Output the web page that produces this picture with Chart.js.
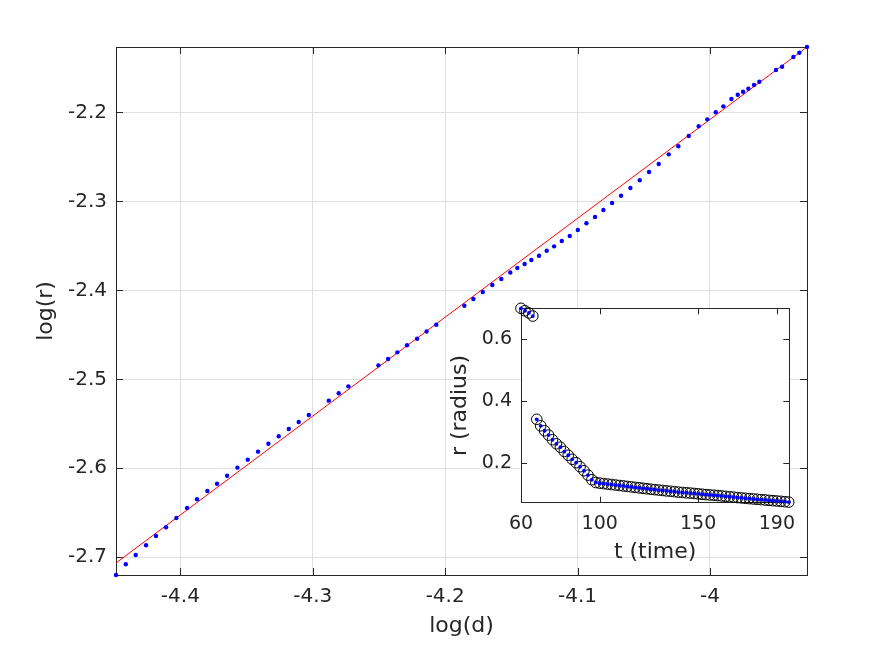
<!DOCTYPE html>
<html>
<head>
<meta charset="utf-8">
<script src="https://cdn.jsdelivr.net/npm/chart.js@4/dist/chart.umd.min.js"></script>
<style>
html, body { margin: 0; padding: 0; background: #fff; }
#wrap { position: relative; width: 891px; height: 645px; }
#main { position: absolute; left: 0; top: 0; }
#inset { position: absolute; left: 430px; top: 295px; }
</style>
</head>
<body>
<div id="wrap">
  <canvas id="main" width="891" height="645"></canvas>
  <canvas id="inset" width="370" height="280"></canvas>
</div>
<script>
// main plot: log(r) against log(d)
var logD = [-4.4486, -4.4412, -4.4337, -4.4259, -4.4184, -4.4108, -4.4030, -4.3949, -4.3874, -4.3796,
            -4.3723, -4.3647, -4.3569, -4.3491, -4.3413, -4.3335, -4.3257, -4.3181, -4.3106, -4.3030,
            -4.2879, -4.2804, -4.2731, -4.2504, -4.2431, -4.2361, -4.2288, -4.2212, -4.2140, -4.2067,
            -4.1855, -4.1787, -4.1716, -4.1644, -4.1576, -4.1508, -4.1455, -4.1400, -4.1349, -4.1291,
            -4.1233, -4.1177, -4.1119, -4.1059, -4.0998, -4.0933, -4.0868, -4.0805, -4.0739, -4.0671,
            -4.0601, -4.0530, -4.0460, -4.0387, -4.0311, -4.0239, -4.0160, -4.0085, -4.0020, -3.9956,
            -3.9899, -3.9838, -3.9790, -3.9750, -3.9710, -3.9667, -3.9627, -3.9501, -3.9455, -3.9370,
            -3.9325, -3.9267];
var logR = [-2.7199, -2.7079, -2.6974, -2.6865, -2.6761, -2.6663, -2.6558, -2.6446, -2.6348, -2.6255,
            -2.6173, -2.6083, -2.5993, -2.5903, -2.5813, -2.5724, -2.5640, -2.5558, -2.5480, -2.5401,
            -2.5240, -2.5157, -2.5079, -2.4843, -2.4772, -2.4697, -2.4618, -2.4544, -2.4463, -2.4387,
            -2.4173, -2.4098, -2.4019, -2.3940, -2.3873, -2.3800, -2.3749, -2.3704, -2.3660, -2.3611,
            -2.3555, -2.3506, -2.3446, -2.3390, -2.3322, -2.3247, -2.3176, -2.3098, -2.3019, -2.2937,
            -2.2851, -2.2764, -2.2671, -2.2581, -2.2472, -2.2382, -2.2266, -2.2157, -2.2079, -2.2000,
            -2.1933, -2.1851, -2.1802, -2.1769, -2.1735, -2.1693, -2.1656, -2.1525, -2.1488, -2.1379,
            -2.1330, -2.1266];
// fitted line, end points
var fitD = [-4.4486, -3.9267];
var fitR = [-2.7064, -2.1266];
var dTicks = [-4.4, -4.3, -4.2, -4.1, -4.0];
var rTicks = [-2.7, -2.6, -2.5, -2.4, -2.3, -2.2];

// inset: r against t
var tTime = [60, 62, 64, 66,
             68, 70, 72, 74, 76, 78, 80, 82, 84, 86, 88, 90, 92, 94, 96,
             98, 100, 102, 104, 106, 108, 110, 112, 114, 116,
             118, 120, 122, 124, 126, 128, 130, 132, 134, 136,
             138, 140, 142, 144, 146, 148, 150, 152, 154, 156,
             158, 160, 162, 164, 166, 168, 170, 172, 174, 176,
             178, 180, 182, 184, 186, 188, 190, 192, 194, 196];
var radius = [0.700, 0.692, 0.685, 0.675,
              0.342, 0.321, 0.305, 0.291, 0.276, 0.263, 0.252, 0.238, 0.226, 0.213, 0.202, 0.189, 0.176, 0.162, 0.147,
              0.138, 0.136, 0.1345, 0.133, 0.1315, 0.130, 0.1285, 0.127, 0.1255, 0.124,
              0.1225, 0.121, 0.1195, 0.118, 0.1165, 0.115, 0.1138, 0.1125, 0.111, 0.110,
              0.1085, 0.107, 0.106, 0.105, 0.104, 0.1028, 0.1015, 0.1003, 0.099, 0.098,
              0.097, 0.096, 0.0948, 0.0935, 0.0922, 0.091, 0.0895, 0.0884, 0.0873, 0.0862,
              0.085, 0.084, 0.083, 0.0818, 0.0806, 0.0796, 0.0785, 0.0774, 0.0762, 0.075];
var tTicks = [60, 100, 150, 190];
var radTicks = [0.2, 0.4, 0.6];

var ink = '#262626';
var font = 'DejaVu Sans';

// box round the axes with inward ticks, like matlab
var framePlugin = {
  id: 'frame',
  beforeDraw: function(chart, args, opts) {
    if (!opts.fill) return;
    var a = chart.chartArea, ctx = chart.ctx;
    ctx.save();
    ctx.fillStyle = '#fff';
    ctx.fillRect(a.left, a.top, a.right - a.left, a.bottom - a.top);
    ctx.restore();
  },
  beforeDatasetsDraw: function(chart, args, opts) {
    var a = chart.chartArea, ctx = chart.ctx, L = opts.tick || 7;
    var sx = chart.scales.x, sy = chart.scales.y;
    ctx.save();
    ctx.strokeStyle = ink;
    ctx.lineWidth = 1;
    ctx.strokeRect(Math.round(a.left) + 0.5, Math.round(a.top) + 0.5,
                   Math.round(a.right - a.left), Math.round(a.bottom - a.top));
    ctx.beginPath();
    sx.ticks.forEach(function(t) {
      var p = Math.round(sx.getPixelForValue(t.value)) + 0.5;
      ctx.moveTo(p, a.bottom); ctx.lineTo(p, a.bottom - L);
      ctx.moveTo(p, a.top); ctx.lineTo(p, a.top + L);
    });
    sy.ticks.forEach(function(t) {
      var p = Math.round(sy.getPixelForValue(t.value)) + 0.5;
      ctx.moveTo(a.left, p); ctx.lineTo(a.left + L, p);
      ctx.moveTo(a.right, p); ctx.lineTo(a.right - L, p);
    });
    ctx.stroke();
    ctx.restore();
  }
};

function fixedTicks(list) {
  return function(s) { s.ticks = list.map(function(v) { return { value: v }; }); };
}
// fix the axis band size and drop the label overhang padding
function fixHeight(h) {
  return function(s) { s.height = h; s.paddingLeft = 0; s.paddingRight = 0; };
}
function fixWidth(w) {
  return function(s) { s.width = w; s.paddingTop = 0; s.paddingBottom = 0; };
}

var mainPts = logD.map(function(d, i) { return { x: d, y: logR[i] }; });
var fitPts = fitD.map(function(d, i) { return { x: d, y: fitR[i] }; });

new Chart(document.getElementById('main'), {
  type: 'scatter',
  data: {
    datasets: [
      { data: mainPts, pointRadius: 2.2, pointBackgroundColor: '#0000ff', pointBorderWidth: 0, clip: false, order: 0 },
      { data: fitPts, showLine: true, borderColor: '#ff0000', borderWidth: 1, pointRadius: 0, clip: false, order: 1 }
    ]
  },
  options: {
    responsive: false,
    animation: false,
    events: [],
    layout: { padding: { left: 0, top: 47, right: 84, bottom: 0 } },
    plugins: { legend: { display: false }, tooltip: { enabled: false }, frame: { tick: 7 } },
    scales: {
      x: {
        type: 'linear', min: -4.4486, max: -3.9267, bounds: 'data',
        afterBuildTicks: fixedTicks(dTicks),
        afterFit: fixHeight(70),
        grid: { color: '#dfdfdf', drawTicks: false },
        border: { display: false },
        ticks: { padding: 10, color: ink, font: { family: font, size: 20 }, maxRotation: 0, autoSkip: false,
                 callback: function(v) { return String(v); } },
        title: { display: true, text: 'log(d)', color: ink, font: { family: font, size: 22 }, padding: { top: 0, bottom: 6 } }
      },
      y: {
        type: 'linear', min: -2.7199, max: -2.1266, bounds: 'data',
        afterBuildTicks: fixedTicks(rTicks),
        afterFit: fixWidth(116),
        grid: { color: '#dfdfdf', drawTicks: false },
        border: { display: false },
        ticks: { padding: 9, color: ink, font: { family: font, size: 20 }, autoSkip: false,
                 callback: function(v) { return String(v); } },
        title: { display: true, text: 'log(r)', color: ink, font: { family: font, size: 22 }, padding: { top: 33, bottom: 0 } }
      }
    }
  },
  plugins: [framePlugin]
});

var insetPts = tTime.map(function(t, i) { return { x: t, y: radius[i] }; });

new Chart(document.getElementById('inset'), {
  type: 'scatter',
  data: {
    datasets: [
      { data: insetPts, pointRadius: 1.9, pointBackgroundColor: '#0000ff', pointBorderWidth: 0, clip: false, order: 0 },
      { data: insetPts, pointRadius: 5.3, pointBackgroundColor: 'rgba(0,0,0,0)', pointBorderColor: '#000', pointBorderWidth: 1, clip: false, order: 1 }
    ]
  },
  options: {
    responsive: false,
    animation: false,
    events: [],
    layout: { padding: { left: 0, top: 13.3, right: 10.7, bottom: 0 } },
    plugins: { legend: { display: false }, tooltip: { enabled: false }, frame: { tick: 6, fill: true } },
    scales: {
      x: {
        type: 'linear', min: 60, max: 196.3, bounds: 'data',
        afterBuildTicks: fixedTicks(tTicks),
        afterFit: fixHeight(72.3),
        grid: { display: false, drawTicks: false },
        border: { display: false },
        ticks: { padding: 10, color: ink, font: { family: font, size: 19 }, maxRotation: 0, autoSkip: false,
                 callback: function(v) { return String(v); } },
        title: { display: true, text: 't (time)', color: ink, font: { family: font, size: 22 }, padding: { top: 0, bottom: 10 } }
      },
      y: {
        type: 'linear', min: 0.073, max: 0.7, bounds: 'data',
        afterBuildTicks: fixedTicks(radTicks),
        afterFit: fixWidth(91),
        grid: { display: false, drawTicks: false },
        border: { display: false },
        ticks: { padding: 9, color: ink, font: { family: font, size: 19 }, autoSkip: false,
                 callback: function(v) { return String(v); } },
        title: { display: true, text: 'r (radius)', color: ink, font: { family: font, size: 22 }, padding: { top: 17, bottom: 0 } }
      }
    }
  },
  plugins: [framePlugin]
});
</script>
</body>
</html>
